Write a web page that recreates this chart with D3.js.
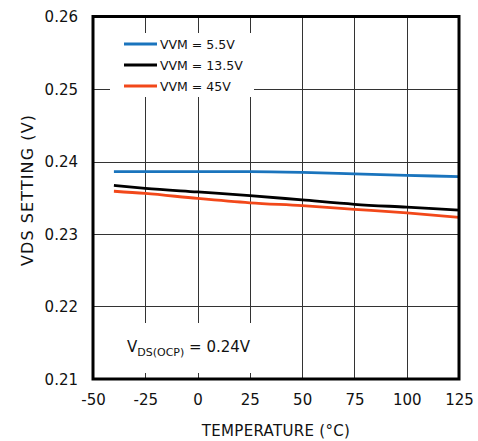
<!DOCTYPE html>
<html>
<head>
<meta charset="utf-8">
<script src="https://cdn.jsdelivr.net/npm/d3@7"></script>
<style>
  body { margin: 0; background: #fff; }
  text { font-family: "DejaVu Sans", sans-serif; fill: #111; }
</style>
</head>
<body>
<div class="chart"></div>
<script>
const temps = [-40, -25, 0, 25, 50, 75, 100, 125];
const vvm55 = [0.2386, 0.2386, 0.2386, 0.2386, 0.2385, 0.2383, 0.2381, 0.2379];
const vvm135 = [0.2367, 0.2363, 0.2358, 0.2353, 0.2347, 0.2341, 0.2337, 0.2333];
const vvm45 = [0.2359, 0.2356, 0.2349, 0.2343, 0.2339, 0.2334, 0.2329, 0.2323];
const seriesNames = ["VVM = 5.5V", "VVM = 13.5V", "VVM = 45V"];
const seriesColors = ["#1a74bd", "#000000", "#f2481a"];
const xTicks = [-50, -25, 0, 25, 50, 75, 100, 125];
const yTicks = [0.21, 0.22, 0.23, 0.24, 0.25, 0.26];

const width = 478, height = 441;
const plotLeft = 93, plotRight = 459, plotTop = 16.5, plotBottom = 379;
const fontFamily = "'DejaVu Sans', sans-serif";

const x = d3.scaleLinear().domain([-50, 125]).range([plotLeft, plotRight]);
const y = d3.scaleLinear().domain([0.21, 0.26]).range([plotBottom, plotTop]);

const svg = d3.select(".chart").append("svg")
  .attr("width", width)
  .attr("height", height);

// grid
svg.append("g").selectAll("line")
  .data(xTicks.slice(1, -1))
  .enter().append("line")
  .attr("x1", d => Math.round(x(d)) + 0.5)
  .attr("x2", d => Math.round(x(d)) + 0.5)
  .attr("y1", plotTop).attr("y2", plotBottom)
  .attr("stroke", "#333").attr("stroke-width", 1);

svg.append("g").selectAll("line")
  .data(yTicks.slice(1, -1))
  .enter().append("line")
  .attr("y1", d => Math.round(y(d)) + 0.5)
  .attr("y2", d => Math.round(y(d)) + 0.5)
  .attr("x1", plotLeft).attr("x2", plotRight)
  .attr("stroke", "#333").attr("stroke-width", 1);

// white boxes behind legend and note
svg.append("rect").attr("x", 110).attr("y", 33).attr("width", 144).attr("height", 64).attr("fill", "#fff");
svg.append("rect").attr("x", 110).attr("y", 323).attr("width", 146).attr("height", 50).attr("fill", "#fff");

// series
const allSeries = [vvm55, vvm135, vvm45];
const line = d3.line()
  .x((d, i) => x(temps[i]))
  .y(d => y(d))
  .curve(d3.curveMonotoneX);

svg.append("g").selectAll("path")
  .data(allSeries)
  .enter().append("path")
  .attr("d", d => line(d))
  .attr("fill", "none")
  .attr("stroke", (d, i) => seriesColors[i])
  .attr("stroke-width", 2.8);

// frame
svg.append("rect")
  .attr("x", plotLeft).attr("y", plotTop)
  .attr("width", plotRight - plotLeft).attr("height", plotBottom - plotTop)
  .attr("fill", "none").attr("stroke", "#000").attr("stroke-width", 3);

// axes labels
const xAxis = d3.axisBottom(x).tickValues(xTicks).tickSize(0).tickPadding(0).tickFormat(d => String(d));
svg.append("g")
  .attr("transform", `translate(0,${plotBottom})`)
  .call(xAxis)
  .call(g => g.select(".domain").remove())
  .call(g => g.selectAll("text")
    .attr("y", 26).attr("dy", 0)
    .style("font-size", "15px")
    .style("font-family", fontFamily)
    .attr("fill", "#111"));

const yAxis = d3.axisLeft(y).tickValues(yTicks).tickSize(0).tickPadding(0).tickFormat(d3.format(".2f"));
svg.append("g")
  .attr("transform", `translate(${plotLeft},0)`)
  .call(yAxis)
  .call(g => g.select(".domain").remove())
  .call(g => g.selectAll("text")
    .attr("x", -15).attr("dy", "0.36em")
    .style("font-size", "15px")
    .style("font-family", fontFamily)
    .attr("fill", "#111"));

svg.append("text")
  .attr("x", (plotLeft + plotRight) / 2).attr("y", 436)
  .attr("text-anchor", "middle")
  .style("font-size", "15px")
  .style("letter-spacing", "0.3px")
  .text("TEMPERATURE (°C)");

svg.append("text")
  .attr("transform", "translate(33,190) rotate(-90)")
  .attr("text-anchor", "middle")
  .style("font-size", "16px")
  .style("letter-spacing", "1.1px")
  .text("VDS SETTING (V)");

// legend
const legend = svg.append("g").selectAll("g")
  .data(seriesNames)
  .enter().append("g")
  .attr("transform", (d, i) => `translate(124,${44 + i * 21})`);
legend.append("line")
  .attr("x1", 0).attr("x2", 33)
  .attr("stroke", (d, i) => seriesColors[i])
  .attr("stroke-width", 2.8);
legend.append("text")
  .attr("x", 36).attr("dy", "0.36em")
  .style("font-size", "12.5px")
  .text(d => d);

// note
const note = svg.append("text")
  .attr("x", 127).attr("y", 352)
  .style("font-size", "15px");
note.append("tspan").text("V");
note.append("tspan").attr("dy", 4).style("font-size", "11px").text("DS(OCP)");
note.append("tspan").attr("dy", -4).text(" = 0.24V");
</script>
</body>
</html>
